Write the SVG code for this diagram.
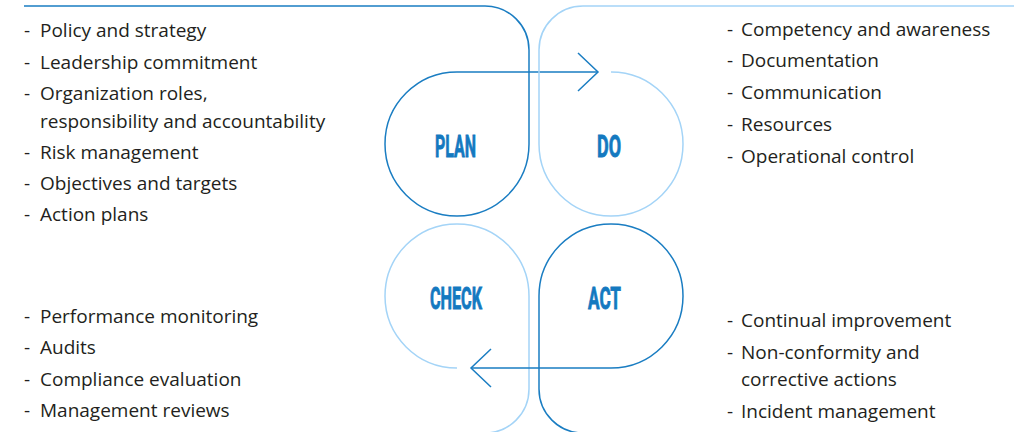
<svg xmlns="http://www.w3.org/2000/svg" width="1014" height="432" viewBox="0 0 1014 432">
<defs>
<style>
.dk{fill:none;stroke:#1a7dc2;stroke-width:1.5}
.lt{fill:none;stroke:#a4d4f7;stroke-width:1.5}
.lbl{font-family:Roboto,"Liberation Sans",sans-serif;font-weight:bold;font-size:32px;fill:#1479c0;stroke:#1479c0;stroke-width:0.9}
.li{font-family:"Open Sans","Noto Sans",sans-serif;font-size:19px;fill:#231f20}
</style>
<marker id="chev" markerUnits="userSpaceOnUse" markerWidth="30" markerHeight="44" viewBox="-24 -22 30 44" refX="0" refY="0" orient="auto">
<path d="M -20 -19 L 0 0 L -20 19" fill="none" stroke="#1a7dc2" stroke-width="1.5"/>
</marker>
</defs>
<rect width="1014" height="432" fill="#ffffff"/>
<g id="connectors">
<path class="dk" marker-end="url(#chev)" d="M 24 6 H 485 A 44 44 0 0 1 529 50 V 144 A 72 72 0 0 1 457 216 A 72 72 0 0 1 385 144 A 72 72 0 0 1 457 72 H 598"/>
<path class="lt" d="M 1014 6 H 583 A 44 44 0 0 0 539 50 V 144 A 72 72 0 0 0 611 216 A 72 72 0 0 0 683 144 A 72 72 0 0 0 611 72"/>
<path class="lt" d="M 457 368 A 72 72 0 0 1 385 296 A 72 72 0 0 1 457 224 A 72 72 0 0 1 529 296 V 389 A 44 44 0 0 1 485 433 H 440"/>
<path class="dk" marker-end="url(#chev)" d="M 630 433 H 583 A 44 44 0 0 1 539 389 V 296 A 72 72 0 0 1 611 224 A 72 72 0 0 1 683 296 A 72 72 0 0 1 611 368 H 471"/>
</g>
<g id="plan">
<text class="lbl" x="435" y="156.5" textLength="41" lengthAdjust="spacingAndGlyphs">PLAN</text>
<text class="li"><tspan x="24" y="37">-</tspan><tspan x="40" y="37">Policy and strategy</tspan></text>
<text class="li"><tspan x="24" y="68.5">-</tspan><tspan x="40" y="68.5">Leadership commitment</tspan></text>
<text class="li"><tspan x="24" y="99.5">-</tspan><tspan x="40" y="99.5">Organization roles,</tspan><tspan x="40" y="128">responsibility and accountability</tspan></text>
<text class="li"><tspan x="24" y="158.5">-</tspan><tspan x="40" y="158.5">Risk management</tspan></text>
<text class="li"><tspan x="24" y="189.5">-</tspan><tspan x="40" y="189.5">Objectives and targets</tspan></text>
<text class="li"><tspan x="24" y="221">-</tspan><tspan x="40" y="221">Action plans</tspan></text>
</g>
<g id="do">
<text class="lbl" x="597" y="156.5" textLength="24" lengthAdjust="spacingAndGlyphs">DO</text>
<text class="li"><tspan x="727" y="35.5">-</tspan><tspan x="741" y="35.5">Competency and awareness</tspan></text>
<text class="li"><tspan x="727" y="67">-</tspan><tspan x="741" y="67">Documentation</tspan></text>
<text class="li"><tspan x="727" y="99">-</tspan><tspan x="741" y="99">Communication</tspan></text>
<text class="li"><tspan x="727" y="131">-</tspan><tspan x="741" y="131">Resources</tspan></text>
<text class="li"><tspan x="727" y="163">-</tspan><tspan x="741" y="163">Operational control</tspan></text>
</g>
<g id="check">
<text class="lbl" x="430" y="309" textLength="52" lengthAdjust="spacingAndGlyphs">CHECK</text>
<text class="li"><tspan x="24" y="322.5">-</tspan><tspan x="40" y="322.5">Performance monitoring</tspan></text>
<text class="li"><tspan x="24" y="354">-</tspan><tspan x="40" y="354">Audits</tspan></text>
<text class="li"><tspan x="24" y="385.5">-</tspan><tspan x="40" y="385.5">Compliance evaluation</tspan></text>
<text class="li"><tspan x="24" y="417">-</tspan><tspan x="40" y="417">Management reviews</tspan></text>
</g>
<g id="act">
<text class="lbl" x="588" y="309" textLength="33" lengthAdjust="spacingAndGlyphs">ACT</text>
<text class="li"><tspan x="727" y="327">-</tspan><tspan x="741" y="327">Continual improvement</tspan></text>
<text class="li"><tspan x="727" y="358.5">-</tspan><tspan x="741" y="358.5">Non-conformity and</tspan><tspan x="741" y="386">corrective actions</tspan></text>
<text class="li"><tspan x="727" y="417.5">-</tspan><tspan x="741" y="417.5">Incident management</tspan></text>
</g>
</svg>
